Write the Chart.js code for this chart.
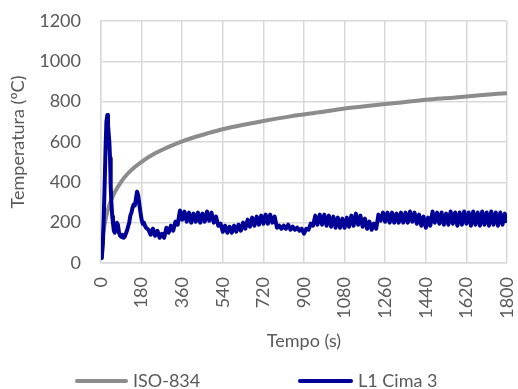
<!DOCTYPE html>
<html>
<head>
<meta charset="utf-8">
<script src="https://cdn.jsdelivr.net/npm/chart.js@4/dist/chart.umd.min.js"></script>
<style>
  body { margin: 0; background: #fff; }
  #wrap { position: relative; width: 518px; height: 389px; }
  .legend-item { position: absolute; top: 369px; font-family: Lato, "Open Sans", sans-serif; font-size: 18px; color: #595959; white-space: nowrap; }
  .legend-line { position: absolute; height: 4px; border-radius: 2px; }
</style>
</head>
<body>
<div id="wrap">
  <canvas id="chart" width="518" height="389"></canvas>
  <div class="legend-line" style="left:75px; top:379px; width:53px; background:#8c8c8c;"></div>
  <div class="legend-item" style="left:133px;">ISO-834</div>
  <div class="legend-line" style="left:298px; top:379px; width:55px; background:#000096;"></div>
  <div class="legend-item" style="left:358px;">L1 Cima 3</div>
</div>
<script>
// ISO-834 curve
const isoTempo = [0, 10, 20, 30, 40, 60, 90, 120, 150, 180, 240, 300, 360, 420, 480, 540, 600, 720, 840, 960, 1080, 1200, 1320, 1440, 1560, 1680, 1800];
const isoTemp = [20, 147, 215, 261, 297, 349, 404, 445, 476, 502, 544, 576, 603, 626, 645, 663, 678, 704, 727, 746, 766, 781, 795, 810, 820, 832, 842];

// L1 Cima 3 measured temperatures
const l1Tempo = [0, 4, 8, 12, 16, 20, 24, 28, 31, 34, 37, 40, 43, 46, 50, 53, 57, 61, 65, 70, 75, 80, 85, 90, 95, 100, 105, 110, 115, 120, 125, 130, 135, 140, 145, 150, 155, 160, 165, 170, 175, 180, 185, 190, 195, 200,
  210, 220, 230, 240, 250, 260, 270, 280, 290, 300, 310, 320, 330, 340, 350, 360, 370, 380, 390, 400,
  410, 420, 430, 440, 450, 460, 470, 480, 490, 500, 510, 520, 530, 540, 550, 560, 570, 580, 590, 600,
  610, 620, 630, 640, 650, 660, 670, 680, 690, 700, 710, 720, 730, 740, 750, 760, 770, 780, 790, 800,
  810, 820, 830, 840, 850, 860, 870, 880, 890, 900, 910, 920, 930, 940, 950, 960, 970, 980, 990, 1000,
  1010, 1020, 1030, 1040, 1050, 1060, 1070, 1080, 1090, 1100, 1110, 1120, 1130, 1140, 1150, 1160, 1170, 1180, 1190, 1200,
  1210, 1220, 1230, 1240, 1250, 1260, 1270, 1280, 1290, 1300, 1310, 1320, 1330, 1340, 1350, 1360, 1370, 1380, 1390, 1400,
  1410, 1420, 1430, 1440, 1450, 1460, 1470, 1480, 1490, 1500, 1510, 1520, 1530, 1540, 1550, 1560, 1570, 1580, 1590, 1600,
  1610, 1620, 1630, 1640, 1650, 1660, 1670, 1680, 1690, 1700, 1710, 1720, 1730, 1740, 1750, 1760, 1770, 1780, 1790, 1800];
const l1Temp = [25, 35, 90, 220, 380, 560, 700, 734, 690, 640, 600, 520, 380, 300, 230, 200, 160, 150, 175, 200, 190, 150, 135, 130, 140, 125, 130, 145, 160, 180, 200, 235, 250, 275, 290, 285, 320, 354, 335, 290, 250, 215, 195, 200, 185, 175,
  165, 140, 170, 135, 160, 125, 145, 125, 175, 150, 185, 160, 205, 190, 260, 215, 255, 205, 250, 200,
  245, 205, 250, 200, 245, 205, 255, 210, 250, 200, 230, 185, 195, 155, 185, 150, 180, 150, 185, 155,
  190, 160, 200, 170, 215, 180, 225, 185, 230, 190, 235, 195, 240, 195, 240, 200, 230, 175, 185, 170,
  185, 170, 190, 165, 180, 165, 175, 160, 170, 145, 170, 165, 195, 185, 235, 190, 240, 190, 240, 185,
  235, 180, 230, 175, 225, 175, 220, 175, 225, 180, 235, 185, 245, 190, 235, 180, 220, 170, 205, 165,
  195, 170, 240, 210, 250, 205, 250, 200, 250, 200, 245, 200, 250, 200, 250, 200, 255, 205, 250, 195,
  240, 185, 230, 175, 225, 185, 255, 200, 250, 195, 250, 190, 245, 190, 255, 195, 250, 185, 250, 190,
  255, 195, 250, 185, 255, 190, 250, 185, 255, 190, 250, 185, 255, 190, 250, 185, 250, 190, 245, 200];

const yTicks = [0, 200, 400, 600, 800, 1000, 1200];
const xTicks = [0, 180, 360, 540, 720, 900, 1080, 1260, 1440, 1620, 1800];

const fontFamily = 'Lato, "Open Sans", sans-serif';
const textColor = "#595959";
const gridColor = "#d9d9d9";

const ctx = document.getElementById("chart");

new Chart(ctx, {
  type: "line",
  data: {
    datasets: [
      {
        label: "ISO-834",
        data: isoTempo.map((t, i) => ({ x: t, y: isoTemp[i] })),
        borderColor: "#8c8c8c",
        borderWidth: 4,
        pointRadius: 0,
        cubicInterpolationMode: "monotone",
        order: 1,
      },
      {
        label: "L1 Cima 3",
        data: l1Tempo.map((t, i) => ({ x: t, y: l1Temp[i] })),
        borderColor: "#000096",
        borderWidth: 4,
        borderJoinStyle: "round",
        pointRadius: 0,
        tension: 0,
        order: 0,
      },
    ],
  },
  options: {
    responsive: false,
    animation: false,
    devicePixelRatio: 1,
    layout: { padding: { top: 21, right: 11, bottom: 33, left: 0 } },
    plugins: { legend: { display: false }, tooltip: { enabled: false } },
    scales: {
      x: {
        type: "linear",
        min: 0,
        max: 1800,
        afterBuildTicks: (scale) => {
          scale.ticks = xTicks.map((v) => ({ value: v }));
        },
        afterFit: (scale) => {
          scale.height = 93;
          scale.paddingLeft = 0;
          scale.paddingRight = 0;
        },
        grid: { color: gridColor, lineWidth: 1.5, drawTicks: false },
        border: { color: gridColor, width: 1.5 },
        ticks: {
          minRotation: 90,
          maxRotation: 90,
          padding: 14,
          color: textColor,
          font: { family: fontFamily, size: 18 },
          callback: (v) => String(v),
        },
        title: {
          display: true,
          text: "Tempo (s)",
          color: textColor,
          font: { family: fontFamily, size: 18 },
          padding: { top: 0, bottom: 4 },
        },
      },
      y: {
        min: 0,
        max: 1200,
        afterBuildTicks: (scale) => {
          scale.ticks = yTicks.map((v) => ({ value: v }));
        },
        afterFit: (scale) => {
          scale.width = 101;
          scale.paddingTop = 0;
          scale.paddingBottom = 0;
        },
        grid: { color: gridColor, lineWidth: 1.5, drawTicks: false },
        border: { color: gridColor, width: 1.5 },
        ticks: {
          padding: 20,
          color: textColor,
          font: { family: fontFamily, size: 18 },
          callback: (v) => String(v),
        },
        title: {
          display: true,
          text: "Temperatura (ºC)",
          color: textColor,
          font: { family: fontFamily, size: 18 },
          padding: { top: 7, bottom: 0 },
        },
      },
    },
  },
});
</script>
</body>
</html>
